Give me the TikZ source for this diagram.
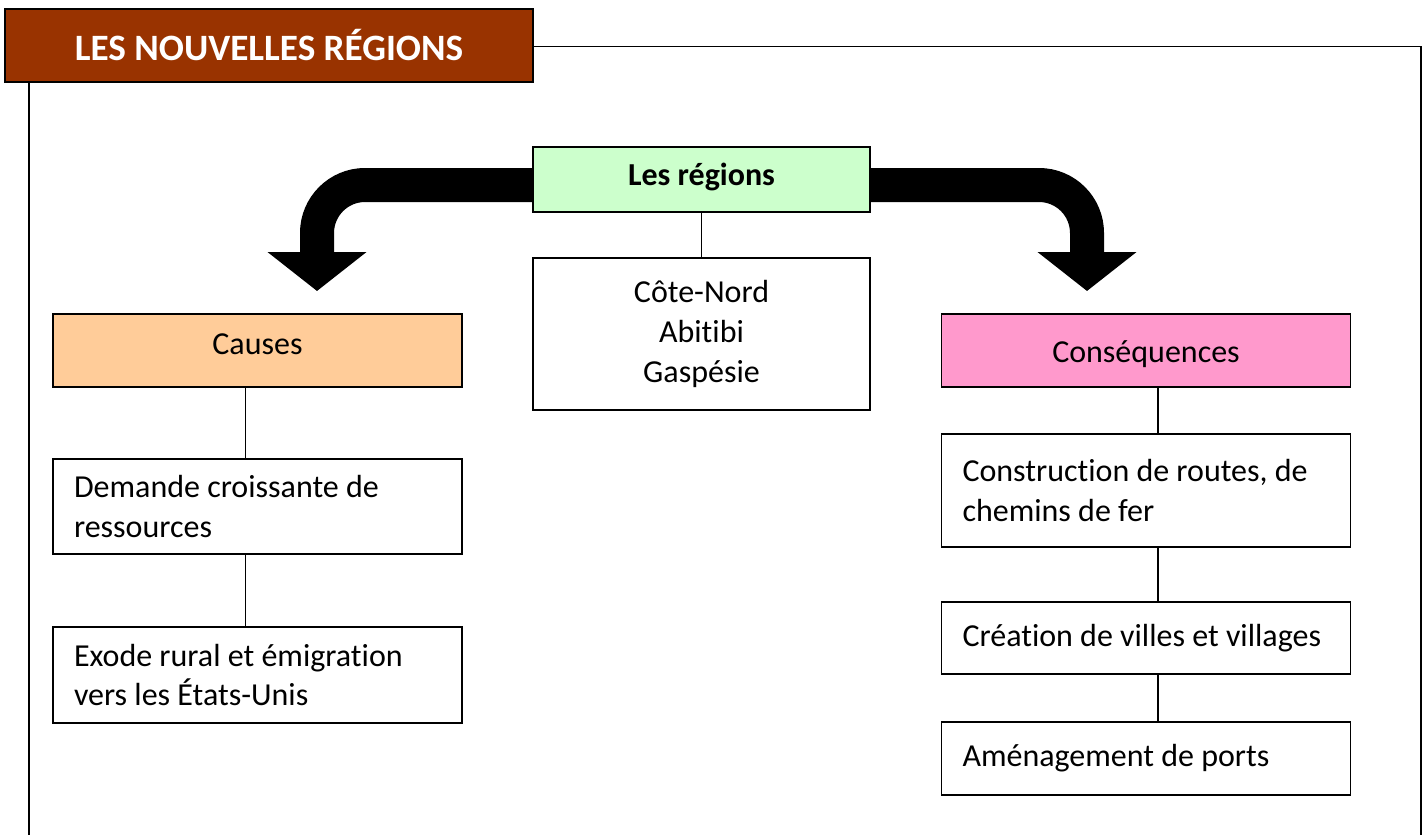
\documentclass[tikz,border=0pt]{standalone}
\usepackage{fontspec}
\setmainfont{Carlito}[Ligatures=NoCommon]
\usepackage{tikz}
\usetikzlibrary{arrows.meta}

\definecolor{brun}{HTML}{993300}
\definecolor{vertpale}{HTML}{CCFFCC}
\definecolor{orangepale}{HTML}{FFCC99}
\definecolor{rosepale}{HTML}{FF99CC}

\begin{document}
\begin{tikzpicture}[x=0.5pt, y=-0.5pt,
		boite/.style={draw, line width=0.75pt, minimum width=204.5pt, inner sep=0pt, font=\fontsize{16}{20}\selectfont},
		texte/.style={boite, align=flush left, inner xsep=10.5pt, text width=183.5pt},
		trait/.style={line width=0.75pt},
		cadre/.style={line width=0.9pt},
		grossefleche/.style={line width=17pt, rounded corners=24pt, -{Triangle[width=48.5pt, length=19.5pt]}}]
	\useasboundingbox (0,0) rectangle (1424,835);
	% Titre et cadre
	\node[draw, line width=1pt, fill=brun, text=white, minimum width=264pt, minimum height=36.5pt, font=\fontsize{18.6}{22}\selectfont\bfseries] (titre) at (269,45.5) {LES NOUVELLES RÉGIONS};
	\coordinate (coinHD) at (1421,46.5);
	\coordinate (basD) at (1421,835);
	\coordinate (hautG) at (29,82);
	\coordinate (basG) at (29,835);
	\draw[cadre] (titre.east |- coinHD) -- (coinHD) -- (basD);
	\draw[cadre] (hautG) -- (basG);
	% Au centre
	\node[boite, fill=vertpale, minimum width=168.5pt, minimum height=32.5pt, text height=10.3pt, text depth=4.8pt, font=\fontsize{16}{20}\selectfont\bfseries] (regions) at (701.5,179.5) {Les régions};
	\node[boite, minimum width=168.5pt, minimum height=76pt, align=center] (liste) at (701.5,334) {Côte-Nord\\Abitibi\\Gaspésie};
	% Causes
	\node[boite, fill=orangepale, minimum height=36.5pt, text height=10.3pt, text depth=6pt] (causes) at (257.5,350.5) {Causes};
	\node[texte, minimum height=47.5pt] (demande) at (257.5,506.5) {Demande croissante de\\ressources};
	\node[texte, minimum height=48pt] (exode) at (257.5,675) {Exode rural et émigration\\vers les États-Unis};
	% Consequences
	\node[boite, fill=rosepale, minimum height=36.5pt, text height=12.3pt, text depth=0pt] (csq) at (1146,350.5) {Conséquences};
	\node[texte, minimum height=56.5pt] (routes) at (1146,490.5) {Construction de routes, de\\chemins de fer};
	\node[texte, minimum height=36pt] (villes) at (1146,638) {Création de villes et villages};
	\node[texte, minimum height=36.5pt] (ports) at (1146,758.5) {Aménagement de ports};
	% Liens
	\draw[trait] (regions) -- (liste);
	\foreach \a/\b in {causes/demande, demande/exode}
		\draw[trait] ([xshift=-6pt]\a.south) -- ([xshift=-6pt]\b.north);
	\foreach \a/\b in {csq/routes, routes/villes, villes/ports}
		\draw[trait] ([xshift=6pt]\a.south) -- ([xshift=6pt]\b.north);
	% Grosses fleches
	\coordinate (pointeG) at (317,291);
	\coordinate (pointeD) at (1087,291);
	\draw[grossefleche] ([yshift=-2.75pt]regions.west) -| (pointeG);
	\draw[grossefleche] ([yshift=-2.75pt]regions.east) -| (pointeD);
\end{tikzpicture}
\end{document}
